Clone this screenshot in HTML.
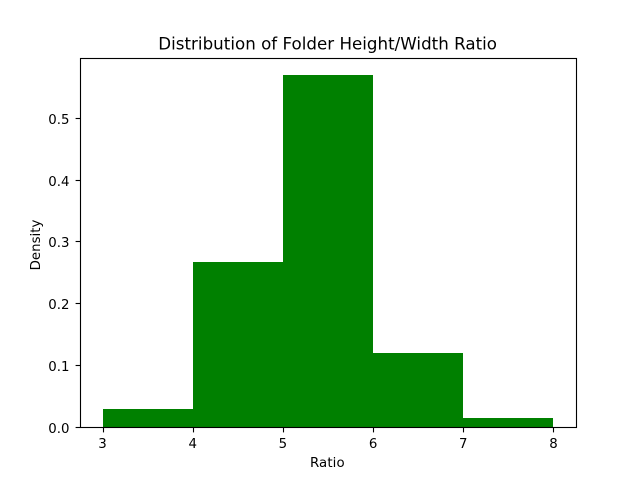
<!DOCTYPE html>
<html>
<head>
<meta charset="utf-8">
<title>Distribution of Folder Height/Width Ratio</title>
<style>
html,body{margin:0;padding:0;background:#fff;width:640px;height:480px;overflow:hidden}
svg{display:block}
text{font-family:"DejaVu Sans",sans-serif;fill:#000}
</style>
</head>
<body>
<svg id="chart" width="640" height="480" viewBox="0 0 640 480" xmlns="http://www.w3.org/2000/svg">
<rect width="640" height="480" fill="#fff"/>
<g id="bars" shape-rendering="crispEdges"></g>
<g id="ticks"></g>
<rect x="80.5" y="58.5" width="496" height="369" fill="none" stroke="#000" stroke-width="1.11"/>
<text x="158.3" y="49.5" textLength="338.7" lengthAdjust="spacing" font-size="16.67">Distribution of Folder Height/Width Ratio</text>
<text x="310" y="467" textLength="34.6" lengthAdjust="spacing" font-size="13.33">Ratio</text>
<text transform="translate(40,245) rotate(-90)" text-anchor="middle" font-size="13.33">Density</text>
</svg>
<script>
var binEdges = [3, 4, 5, 6, 7, 8];
var densities = [0.029, 0.267, 0.5686, 0.12, 0.015];
var xTickLabels = ["3", "4", "5", "6", "7", "8"];
var yTickLabels = ["0.0", "0.1", "0.2", "0.3", "0.4", "0.5"];

var NS = 'http://www.w3.org/2000/svg';
var plotLeft = 80, plotRight = 576, plotTop = 57.6, plotBottom = 427.2;
var xMin = binEdges[0], xMax = binEdges[binEdges.length - 1];
var xPad = (xMax - xMin) * 0.05;
var yMax = Math.max.apply(null, densities) * 1.05;

function xScale(v) {
  return plotLeft + (v - (xMin - xPad)) / ((xMax + xPad) - (xMin - xPad)) * (plotRight - plotLeft);
}
function yScale(v) {
  return plotBottom - v / yMax * (plotBottom - plotTop);
}
function make(tag, attrs, parent) {
  var el = document.createElementNS(NS, tag);
  for (var k in attrs) el.setAttribute(k, attrs[k]);
  parent.appendChild(el);
  return el;
}

var barsGroup = document.getElementById('bars');
var ticksGroup = document.getElementById('ticks');
var baseY = Math.round(plotBottom);

densities.forEach(function (d, i) {
  var x0 = Math.round(xScale(binEdges[i])), x1 = Math.round(xScale(binEdges[i + 1])), y = Math.round(yScale(d));
  var bar = make('rect', {x: x0, y: y, width: x1 - x0, height: baseY - y, fill: '#008000'}, barsGroup);
  
  
});

xTickLabels.forEach(function (label) {
  var raw = xScale(parseFloat(label));
  var x = Math.round(raw) + 0.5;
  var tick = make('line', {x1: x, x2: x, y1: baseY + 0.5, y2: baseY + 5.4, stroke: '#000', 'stroke-width': 1.11}, ticksGroup);
  
  
  var text = make('text', {x: raw, y: 448, 'text-anchor': 'middle', 'font-size': 13.33}, ticksGroup);
  text.textContent = label;
  
  
});

yTickLabels.forEach(function (label) {
  var y = Math.round(yScale(parseFloat(label))) + 0.5;
  var tick = make('line', {x1: plotLeft - 4.4, x2: plotLeft + 0.5, y1: y, y2: y, stroke: '#000', 'stroke-width': 1.11}, ticksGroup);
  
  
  var text = make('text', {x: plotLeft - 10.5, y: y + 5.5, 'text-anchor': 'end', 'font-size': 13.33}, ticksGroup);
  text.textContent = label;
  
  
});
</script>
</body>
</html>
